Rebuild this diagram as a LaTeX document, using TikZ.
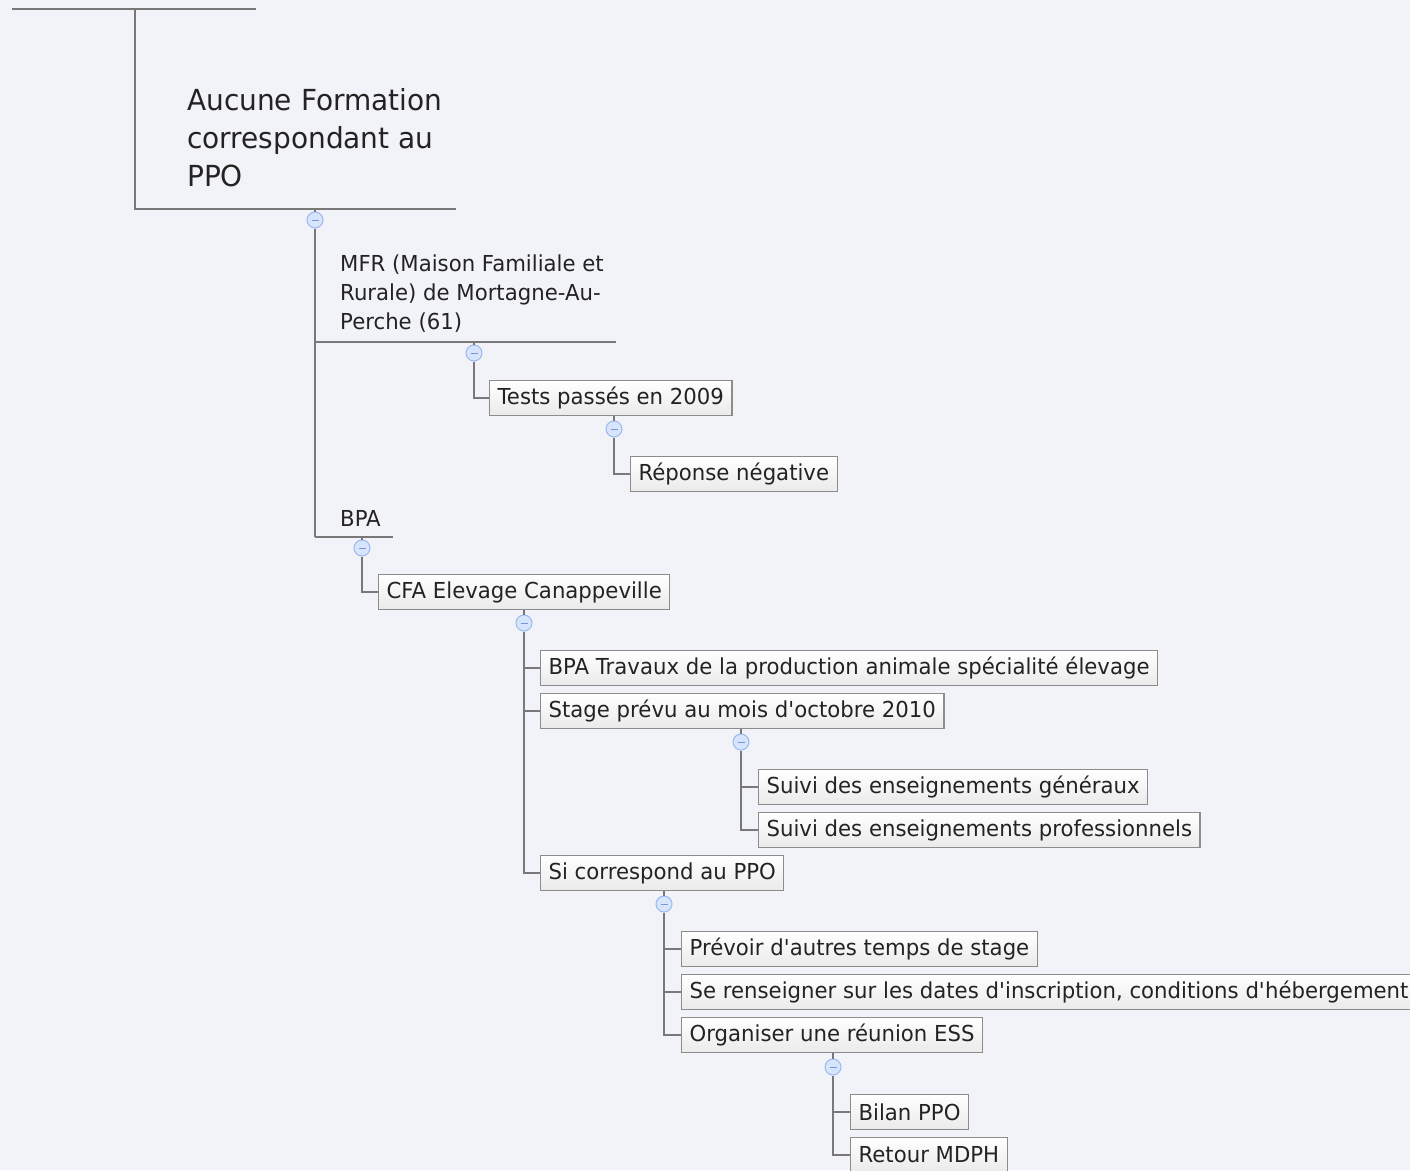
\documentclass[tikz,border=0pt]{standalone}
\usepackage{fontspec}
\setmainfont{DejaVu Sans}[FakeStretch=0.965]
\definecolor{paper}{RGB}{242,243,248}
\definecolor{branch}{RGB}{120,120,120}
\definecolor{boxline}{RGB}{140,140,140}
\definecolor{boxtop}{RGB}{255,255,255}
\definecolor{boxbottom}{RGB}{234,234,234}
\definecolor{knobfill}{RGB}{214,228,252}
\definecolor{knobline}{RGB}{155,185,238}
\definecolor{knobdash}{RGB}{120,150,215}
\definecolor{inktext}{RGB}{35,35,35}

\tikzset{
  topic/.style={draw=boxline, line width=1.2, top color=boxtop, bottom color=boxbottom,
    anchor=west, minimum height=35, inner xsep=8, inner ysep=0, text=inktext,
    font=\fontsize{22}{26}\selectfont},
  subject/.style={anchor=north west, inner sep=0, align=left, text=inktext,
    font=\fontsize{22}{29}\selectfont},
  central/.style={anchor=north west, inner sep=0, align=left, text=inktext,
    font=\fontsize{29}{38}\selectfont},
  link/.style={draw=branch, line width=1.3},
  knob/.style={circle, draw=knobline, fill=knobfill, line width=1, minimum size=16, inner sep=0,
    path picture={\draw[knobdash, line width=1] ([xshift=-3.5]path picture bounding box.center)
      -- ([xshift=3.5]path picture bounding box.center);}}
}

\begin{document}
\begin{tikzpicture}[x=1pt, y=-1pt]
        \fill[paper] (0,0) rectangle (1410,1170);
        \useasboundingbox (0,0) rectangle (1410,1170);

        % underlined topics
        \coordinate (rootL) at (12,9);
        \coordinate (rootR) at (256,9);
        \coordinate (rootJ) at (135,9);
        \coordinate (aucuneL) at (135,209);
        \coordinate (aucuneR) at (456,209);
        \coordinate (mfrL) at (315,342);
        \coordinate (mfrR) at (616,342);
        \coordinate (bpaL) at (315,537);
        \coordinate (bpaR) at (393,537);

        \node[central] (aucune) at (187,88) {Aucune Formation\\correspondant au\\PPO};
        \node[subject] (mfr) at (340,255) {MFR (Maison Familiale et\\Rurale) de Mortagne-Au-\\Perche (61)};
        \node[subject] (bpa) at (340,510) {BPA};

        % boxed topics
        \node[topic] (tests) at (489,398) {Tests passés en 2009};
        \node[topic] (reponse) at (630,474) {Réponse négative};
        \node[topic] (cfa) at (378,592) {CFA Elevage Canappeville};
        \node[topic] (bpatrav) at (540,668) {BPA Travaux de la production animale spécialité élevage};
        \node[topic] (stage) at (540,711) {Stage prévu au mois d\textquotesingle octobre 2010};
        \node[topic] (suivig) at (758,787) {Suivi des enseignements généraux};
        \node[topic] (suivip) at (758,830) {Suivi des enseignements professionnels};
        \node[topic] (sicor) at (540,873) {Si correspond au PPO};
        \node[topic] (prevoir) at (681,949) {Prévoir d\textquotesingle autres temps de stage};
        \node[topic] (renseigner) at (681,992) {Se renseigner sur les dates d\textquotesingle inscription, conditions d\textquotesingle hébergement};
        \node[topic] (organiser) at (681,1035) {Organiser une réunion ESS};
        \node[topic] (bilan) at (850,1112) {Bilan PPO};
        \node[topic] (retour) at (850,1155) {Retour MDPH};

        % collapse buttons
        \node[knob] (k1) at (315,220) {};
        \node[knob] (k2) at (474,353) {};
        \node[knob] (k3) at (614,429) {};
        \node[knob] (k4) at (362,548) {};
        \node[knob] (k5) at (524,623) {};
        \node[knob] (k6) at (741,742) {};
        \node[knob] (k7) at (664,904) {};
        \node[knob] (k8) at (833,1067) {};

        \draw[link] (rootL) -- (rootR);
        \draw[link] (rootJ) -- (aucuneL) -- (aucuneR);
        \draw[link] (mfrL) -- (mfrR);
        \draw[link] (bpaL) -- (bpaR);

        \draw[link] (k1.north) -- (k1.north |- aucuneL);
        \draw[link] (k1) |- (mfrL);
        \draw[link] (k1) |- (bpaL);

        \draw[link] (k2.north) -- (k2.north |- mfrL);
        \draw[link] (k2) |- (tests.west);
        \draw[link] (k3.north) -- (k3.north |- tests.south);
        \draw[link] (k3) |- (reponse.west);

        \draw[link] (k4.north) -- (k4.north |- bpaL);
        \draw[link] (k4) |- (cfa.west);
        \draw[link] (k5.north) -- (k5.north |- cfa.south);
        \draw[link] (k5) |- (bpatrav.west);
        \draw[link] (k5) |- (stage.west);
        \draw[link] (k5) |- (sicor.west);

        \draw[link] (k6.north) -- (k6.north |- stage.south);
        \draw[link] (k6) |- (suivig.west);
        \draw[link] (k6) |- (suivip.west);

        \draw[link] (k7.north) -- (k7.north |- sicor.south);
        \draw[link] (k7) |- (prevoir.west);
        \draw[link] (k7) |- (renseigner.west);
        \draw[link] (k7) |- (organiser.west);

        \draw[link] (k8.north) -- (k8.north |- organiser.south);
        \draw[link] (k8) |- (bilan.west);
        \draw[link] (k8) |- (retour.west);
\end{tikzpicture}
\end{document}
